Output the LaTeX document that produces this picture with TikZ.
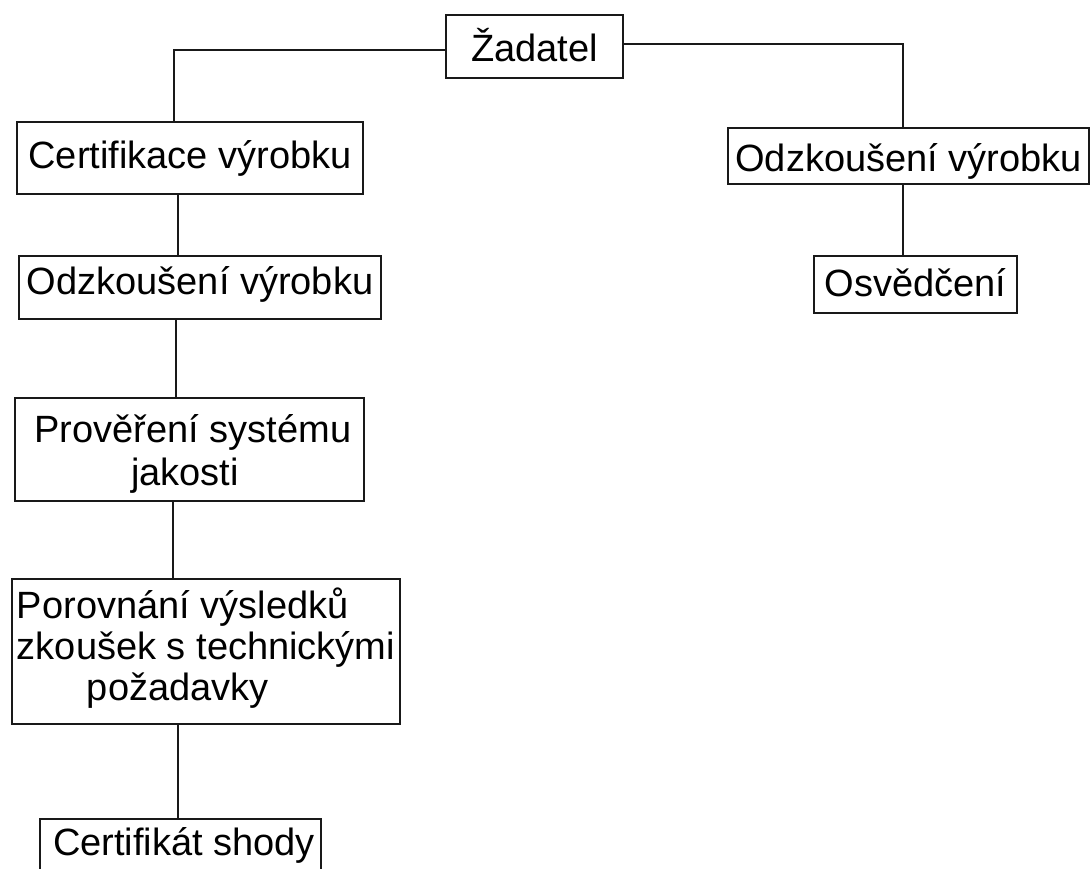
\documentclass[tikz,border=0pt]{standalone}
\usepackage{fontspec}
\setmainfont{Liberation Sans}
\begin{document}
\begin{tikzpicture}[x=1pt,y=-1pt,
  boxbase/.style={draw=black!90, line width=2pt, inner sep=0pt, rectangle,
    font=\fontsize{38}{43}\selectfont, text height=35pt},
  conn/.style={draw=black!90, line width=2pt}]
\useasboundingbox (0,0) rectangle (1090,868);
\clip (0,0) rectangle (1090,868);
\fill[white] (0,0) rectangle (1090,868);

\node[boxbase, minimum width=177pt, minimum height=63pt, text depth=6pt] (zad) at (534.5,46.5) {Žadatel};
\node[boxbase, minimum width=346pt, minimum height=72pt, text depth=14pt] (cert) at (190,158) {Certifikace výrobku};
\node[boxbase, minimum width=362pt, minimum height=63pt, text depth=22pt] (odzL) at (200,287.5) {Odzkoušení výrobku};
\node[boxbase, minimum width=361pt, minimum height=56pt, text depth=4pt] (odzR) at (908.5,156) {Odzkoušení výrobku};
\node[boxbase, minimum width=203pt, minimum height=57pt, text depth=11pt] (osv) at (915.5,284.5) {Osvědčení};
\node[boxbase, minimum width=349pt, minimum height=103pt, text depth=50pt] (prov) at (189.5,449.5)
  {\begin{tabular}[t]{@{}c@{}}\hspace*{7pt}Prověření systému\\ jakosti\hspace*{9pt}\end{tabular}};
\node[boxbase, minimum width=388pt, minimum height=145pt, text depth=101pt] (por) at (206,651.5)
  {\fontsize{38}{41}\selectfont\begin{tabular}[t]{@{}l@{}}Porovnání výsledků\\ zkoušek s technickými\\ \hspace*{70pt}požadavky\end{tabular}};
\node[boxbase, minimum width=281pt, minimum height=60pt, text depth=23pt] (certS) at (180.5,849) {\hspace*{7pt}Certifikát shody};

\draw[conn] ([yshift=-3.5pt]zad.west) -| ([xshift=-16pt]cert.north);
\draw[conn] ([yshift=2.5pt]zad.east) -| ([xshift=-6pt]odzR.north);
\draw[conn] ([xshift=-12pt]cert.south) -- ([xshift=-12pt]cert.south |- odzL.north);
\draw[conn] ([xshift=-24pt]odzL.south) -- ([xshift=-24pt]odzL.south |- prov.north);
\draw[conn] ([xshift=-16.5pt]prov.south) -- ([xshift=-16.5pt]prov.south |- por.north);
\draw[conn] ([xshift=-28pt]por.south) -- ([xshift=-28pt]por.south |- certS.north);
\draw[conn] ([xshift=-6pt]odzR.south) -- ([xshift=-6pt]odzR.south |- osv.north);
\end{tikzpicture}
\end{document}
